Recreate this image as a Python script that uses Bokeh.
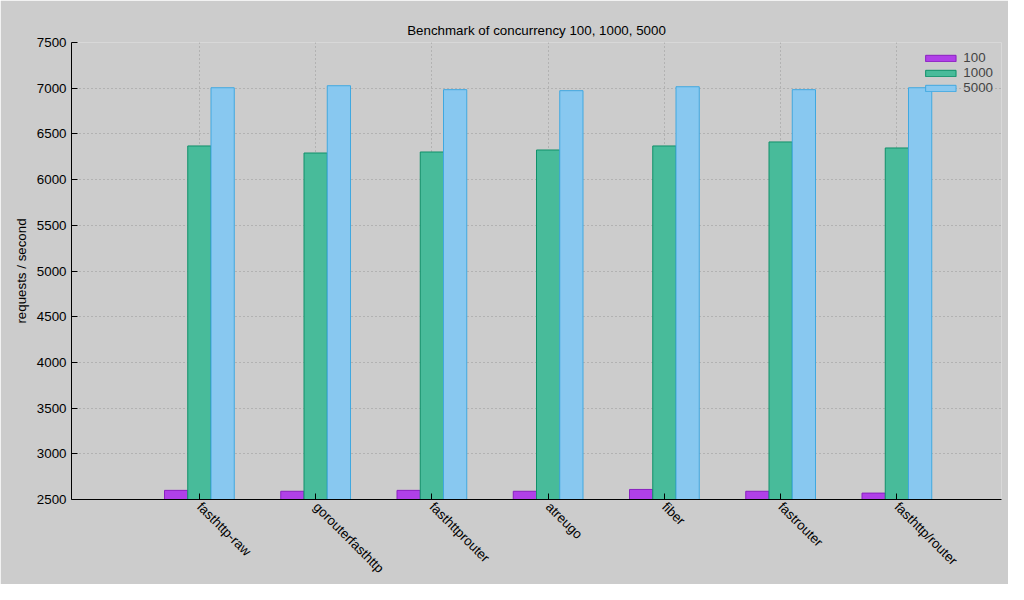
from bokeh.plotting import figure
from bokeh.models import Legend, LegendItem, FixedTicker, Range1d
from bokeh.embed import file_html
from bokeh.resources import INLINE

categories = ["fasthttp-raw", "gorouterfasthttp", "fasthttprouter", "atreugo", "fiber", "fastrouter", "fasthttp/router"]
series_names = ["100", "1000", "5000"]
v100 = [2600, 2590, 2600, 2590, 2610, 2590, 2570]
v1000 = [6368, 6291, 6302, 6324, 6368, 6412, 6346]
v5000 = [7005, 7027, 6984, 6973, 7016, 6984, 7005]
yticks = [2500, 3000, 3500, 4000, 4500, 5000, 5500, 6000, 6500, 7000, 7500]

fills = ["#b040e8", "#48bb9a", "#88c8f0"]
lines = ["#8a20c0", "#10906a", "#40a8e0"]

p = figure(width=1008, height=584, output_backend="svg", toolbar_location=None,
           title="Benchmark of concurrency 100, 1000, 5000",
           x_range=Range1d(-1.1, 6.9), y_range=Range1d(2500, 7500),
           background_fill_color="#cccccc", border_fill_color="#cccccc",
           min_border_left=71, min_border_right=7, min_border_top=42, min_border_bottom=78)
p.title.align = "center"
p.title.text_font = "Liberation Sans"
p.title.text_font_style = "normal"
p.title.text_font_size = "10pt"
p.title.text_color = "black"
p.outline_line_color = None

xs = list(range(len(categories)))
items = []
for k, (vals, off) in enumerate(zip([v100, v1000, v5000], [-0.2, 0, 0.2])):
    r = p.vbar(x=[x + off for x in xs], top=vals, bottom=2500, width=0.2,
               fill_color=fills[k], line_color=lines[k], line_width=1)
    items.append(LegendItem(label=series_names[k], renderers=[r]))

leg = Legend(items=items, location="top_right", background_fill_alpha=0, border_line_alpha=0,
             label_text_font="Liberation Sans", label_text_font_size="10pt",
             glyph_width=38, glyph_height=8, spacing=0, padding=2, label_height=12,
             label_standoff=4, margin=6)
p.add_layout(leg)

p.xaxis.ticker = FixedTicker(ticks=xs)
p.xaxis.major_label_overrides = {i: c for i, c in enumerate(categories)}
p.xaxis.major_label_orientation = -0.785
p.yaxis.ticker = FixedTicker(ticks=yticks)
p.yaxis.axis_label = "requests / second"
for ax in (p.xaxis, p.yaxis):
    ax.major_label_text_font = "Liberation Sans"
    ax.major_label_text_font_size = "10pt"
    ax.major_label_text_color = "black"
    ax.axis_line_color = "black"
    ax.major_tick_line_color = "black"
    ax.minor_tick_line_color = None
    ax.major_tick_in = 6
    ax.major_tick_out = 0
p.yaxis.axis_label_text_font = "Liberation Sans"
p.yaxis.axis_label_text_font_style = "normal"
p.yaxis.axis_label_text_font_size = "10pt"
p.yaxis.axis_label_text_color = "black"

p.grid.grid_line_color = "#999999"
p.grid.grid_line_dash = "1 3"

open("out.html", "w").write(file_html(p, INLINE))
